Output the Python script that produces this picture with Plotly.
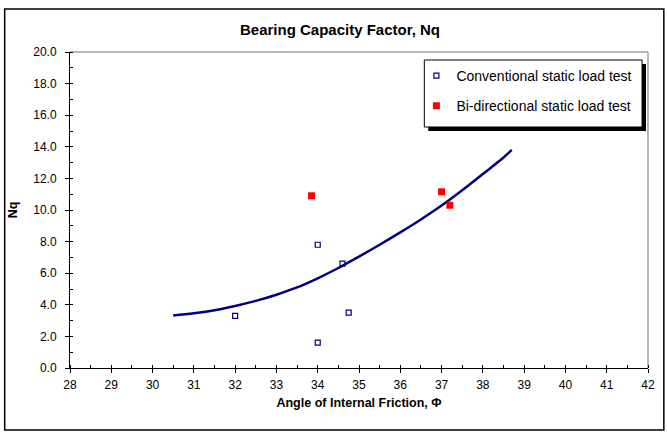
import plotly.graph_objects as go

# Data
conv_phi = [32.0, 34.0, 34.0, 34.6, 34.75]
conv_nq = [3.3, 7.8, 1.6, 6.6, 3.5]
bi_phi = [33.85, 37.0, 37.2]
bi_nq = [10.9, 11.15, 10.3]
fit_phi = [30.5, 31.0, 31.5, 32.0, 32.5, 33.0, 33.5, 34.0, 34.5, 35.0, 35.5, 36.0, 36.5, 37.0, 37.5, 38.0, 38.5, 38.7]
fit_nq = [3.33, 3.47, 3.66, 3.93, 4.25, 4.64, 5.1, 5.68, 6.33, 7.05, 7.8, 8.58, 9.4, 10.28, 11.25, 12.28, 13.32, 13.8]

W, H = 667, 432
L, R, T, B = 70, 13, 52, 64
pw, ph = W - L - R, H - T - B

def px2paper_x(px):
    return (px - L) / pw

def px2paper_y(py):
    return (H - B - py) / ph

FONT = "Liberation Sans, Arial, sans-serif"
NAVY = "#000080"

fig = go.Figure()
fig.add_trace(go.Scatter(
    x=fit_phi, y=fit_nq, mode="lines", line=dict(color=NAVY, width=2.5, shape="spline", smoothing=1.0),
    showlegend=False, hoverinfo="skip"))
fig.add_trace(go.Scatter(
    x=conv_phi, y=conv_nq, mode="markers", name="Conventional static load test",
    marker=dict(symbol="square-open", size=5, color=NAVY, line=dict(width=1.2, color=NAVY)),
    legendgroup="a"))
fig.add_trace(go.Scatter(
    x=bi_phi, y=bi_nq, mode="markers", name="Bi-directional static load test",
    marker=dict(symbol="square", size=7, color="#FF0000", line=dict(width=0)),
    legendgroup="b"))

LX0, LX1, LY0, LY1 = 428, 648, 60, 127
shapes = [
    # outer chart frame
    dict(type="rect", xref="paper", yref="paper",
         x0=px2paper_x(4), x1=px2paper_x(670), y0=px2paper_y(430), y1=px2paper_y(9),
         line=dict(color="black", width=1.5), fillcolor="rgba(0,0,0,0)", layer="below"),
    # gray plot border (top and right)
    dict(type="line", xref="paper", yref="paper", x0=0, x1=1, y0=1, y1=1,
         line=dict(color="#a0a0a0", width=1.5), layer="below"),
    dict(type="line", xref="paper", yref="paper", x0=1, x1=1, y0=0, y1=1,
         line=dict(color="#a0a0a0", width=1.5), layer="below"),
    # legend shadow
    dict(type="rect", xref="paper", yref="paper",
         x0=px2paper_x(LX0 + 4), x1=px2paper_x(LX1 + 4), y0=px2paper_y(LY1 + 4), y1=px2paper_y(LY0 + 4),
         line=dict(width=0), fillcolor="black", layer="above"),
    # legend box
    dict(type="rect", xref="paper", yref="paper",
         x0=px2paper_x(LX0), x1=px2paper_x(LX1), y0=px2paper_y(LY1), y1=px2paper_y(LY0),
         line=dict(width=1, color="black"), fillcolor="white", layer="above"),
]

fig.update_layout(
    width=W, height=H,
    margin=dict(l=L, r=R, t=T, b=B),
    paper_bgcolor="white", plot_bgcolor="white",
    font=dict(family=FONT, size=12, color="black"),
    title=dict(text="<b>Bearing Capacity Factor, Nq</b>", x=340 / W, xanchor="center",
               y=1 - 30 / H, yanchor="middle", font=dict(size=15, family=FONT)),
    xaxis=dict(range=[28, 42], dtick=1, tick0=28, showgrid=False, zeroline=False,
               showline=True, linecolor="black", linewidth=1,
               ticks="outside", ticklen=4, tickcolor="black", ticklabelstandoff=2,
               minor=dict(dtick=0.5, ticks="inside", ticklen=3, tickcolor="black", showgrid=False),
               title=dict(text="<b>Angle of Internal Friction, Φ</b>", font=dict(size=12.5), standoff=6),
               tickfont=dict(size=12)),
    yaxis=dict(range=[0, 20], dtick=2, tick0=0, tickformat=".1f", showgrid=False, zeroline=False,
               showline=True, linecolor="black", linewidth=1,
               ticks="outside", ticklen=4, tickcolor="black", ticklabelstandoff=6,
               minor=dict(dtick=1, ticks="inside", ticklen=3, tickcolor="black", showgrid=False),
               title=dict(text="<b>Nq</b>", font=dict(size=12.5), standoff=12),
               tickfont=dict(size=12)),
    legend=dict(x=px2paper_x(420), y=px2paper_y(60), xanchor="left", yanchor="top",
                bgcolor="rgba(0,0,0,0)", borderwidth=0,
                font=dict(size=14, family=FONT), traceorder="grouped", tracegroupgap=9,
                itemwidth=30),
    shapes=shapes,
)

fig.write_html("out.html")
